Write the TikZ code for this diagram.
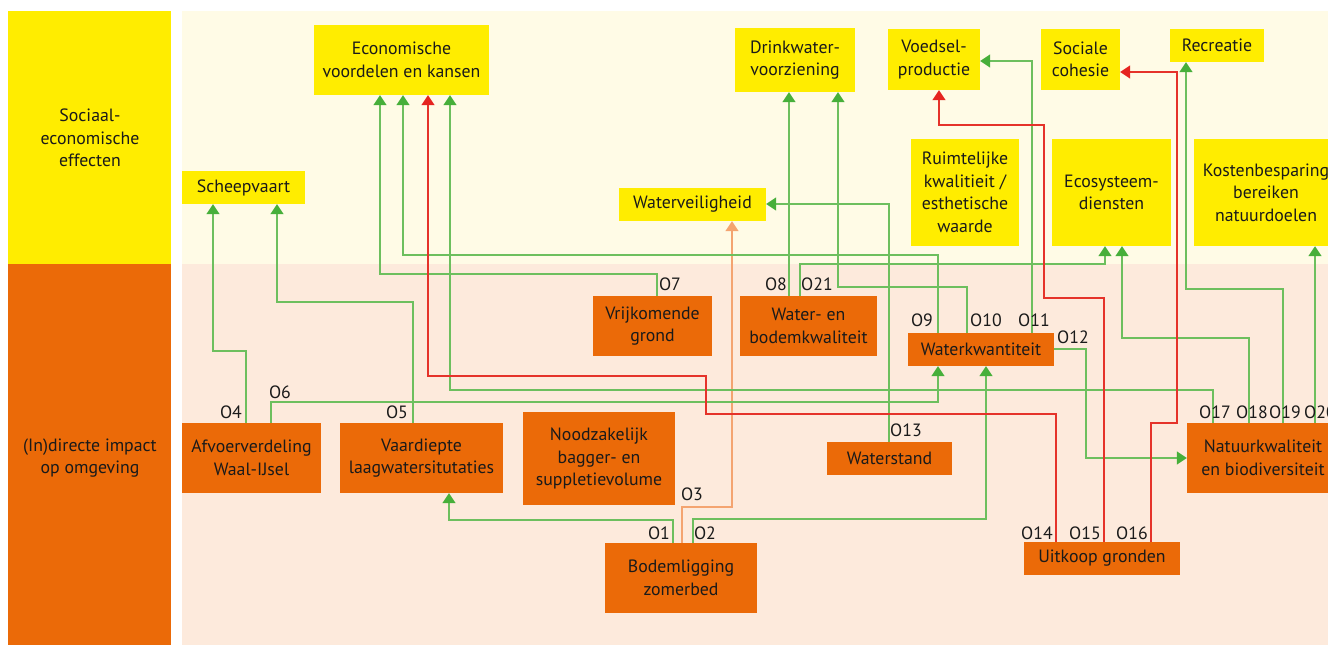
\documentclass[tikz,border=0pt]{standalone}
\usepackage{fontspec}
\setmainfont{PT Sans}
\usetikzlibrary{arrows.meta}

\definecolor{ybright}{HTML}{FFED00}
\definecolor{ypale}{HTML}{FFFBE6}
\definecolor{obright}{HTML}{EB6A08}
\definecolor{opale}{HTML}{FDEADC}
\definecolor{lgreen}{HTML}{6DBF5E}
\definecolor{agreen}{HTML}{47AF3A}
\definecolor{lred}{HTML}{E5332A}
\definecolor{ared}{HTML}{E52420}
\definecolor{lorange}{HTML}{F4A470}
\definecolor{ink}{HTML}{1A1A1A}

% box from its corners: style, name, x1, y1, x2, y2, text
\newcommand\mkbox[7]{%
  \node[#1, minimum width={(#5-#3)*1pt}, minimum height={(#6-#4)*1pt}]
    (#2) at ({(#3+#5)/2},{(#4+#6)/2}) {#7};}

\begin{document}
\begin{tikzpicture}[x=1pt,y=-1pt,
  every node/.style={font=\fontsize{17.8}{22.5}\selectfont, text=ink},
  ybox/.style={fill=ybright, align=center, inner sep=0pt},
  obox/.style={fill=obright, align=center, inner sep=0pt},
  lab/.style={inner sep=0pt},
  link/.style={line width=1.3pt},
  gl/.style={link, draw=lgreen, -{Triangle[width=13pt,length=10pt,color=agreen]}},
  rl/.style={link, draw=lred, -{Triangle[width=13pt,length=10pt,color=ared]}},
  ol/.style={link, draw=lorange, -{Triangle[width=13pt,length=10pt,color=lorange]}},
]
\useasboundingbox (0,0) rectangle (1328,646);
\clip (0,0) rectangle (1328,646);

% background bands
\fill[white] (0,0) rectangle (1328,646);
\fill[ybright] (8,11) rectangle (171,264);
\fill[obright] (8,264) rectangle (171,645);
\fill[ypale] (182,11) rectangle (1340,264);
\fill[opale] (182,264) rectangle (1340,645);

\node[align=center] (lefttop) at (90,138) {Sociaal-\\economische\\effecten};
\node[align=center] (leftbot) at (90,458) {(In)directe impact\\op omgeving};

% socio-economic effects
\mkbox{ybox}{econ}{314}{25}{489}{95}{Economische\\voordelen en kansen}
\mkbox{ybox}{scheep}{182}{171}{305}{204}{Scheepvaart}
\mkbox{ybox}{drink}{735}{28}{855}{92}{Drinkwater-\\voorziening}
\mkbox{ybox}{veil}{619}{188}{766}{221}{Waterveiligheid}
\mkbox{ybox}{voedsel}{888}{29}{980}{90}{Voedsel-\\productie}
\mkbox{ybox}{sociale}{1041}{29}{1120}{90}{Sociale\\cohesie}
\mkbox{ybox}{recr}{1170}{29}{1264}{62}{Recreatie}
\mkbox{ybox}{ruimte}{911}{139}{1019}{246}{Ruimtelijke\\kwalitieit /\\esthetische\\waarde}
\mkbox{ybox}{eco}{1052}{139}{1171}{246}{Ecosysteem-\\diensten}
\mkbox{ybox}{kosten}{1194}{139}{1338}{246}{Kostenbesparing\\bereiken\\natuurdoelen}

% (in)direct impacts
\mkbox{obox}{afvoer}{182}{423}{321}{493}{Afvoerverdeling\\Waal-IJsel}
\mkbox{obox}{vaar}{340}{423}{503}{493}{Vaardiepte\\laagwatersitutaties}
\mkbox{obox}{nood}{523}{412}{675}{505}{Noodzakelijk\\bagger- en\\suppletievolume}
\mkbox{obox}{vrij}{593}{296}{712}{356}{Vrijkomende\\grond}
\mkbox{obox}{wbk}{740}{296}{877}{356}{Water- en\\bodemkwaliteit}
\mkbox{obox}{wkw}{908}{333}{1054}{366}{Waterkwantiteit}
\mkbox{obox}{wstand}{827}{442}{952}{475}{Waterstand}
\mkbox{obox}{natuur}{1187}{423}{1339}{493}{Natuurkwaliteit\\en biodiversiteit}
\mkbox{obox}{bodem}{605}{543}{757}{613}{Bodemligging\\zomerbed}
\mkbox{obox}{uit}{1024}{542}{1180}{575}{Uitkoop gronden}

% connectors
\draw[gl] (673,0 |- bodem.north) -- (673,520) -- (449,520) -- (449,0 |- vaar.south);
\draw[gl] (693,0 |- bodem.north) -- (693,519) -- (986,519) -- (986,0 |- wkw.south);
\draw[ol] (682,0 |- bodem.north) -- (682,507) -- (732,507) -- (732,0 |- veil.south);
\draw[gl] (246,0 |- afvoer.north) -- (246,351) -- (213,351) -- (213,0 |- scheep.south);
\draw[gl] (413,0 |- vaar.north) -- (413,302) -- (277,302) -- (277,0 |- scheep.south);
\draw[gl] (271,0 |- afvoer.north) -- (271,402) -- (938,402) -- (938,0 |- wkw.south);
\draw[gl] (657,0 |- vrij.north) -- (657,274) -- (380,274) -- (380,0 |- econ.south);
\draw[gl] (789,0 |- wbk.north) -- (789,0 |- drink.south);
\draw[gl] (800,0 |- wbk.north) -- (800,264) -- (1105,264) -- (1105,0 |- eco.south);
\draw[gl] (938,0 |- wkw.north) -- (938,255) -- (403,255) -- (403,0 |- econ.south);
\draw[gl] (967,0 |- wkw.north) -- (967,287) -- (838,287) -- (838,0 |- drink.south);
\draw[gl] (1032,0 |- wkw.north) -- (1032,61) -- (voedsel.east |- 0,61);
\draw[gl] (wkw.east |- 0,349) -- (1086,349) -- (1086,458) -- (natuur.west |- 0,458);
\draw[gl] (889,0 |- wstand.north) -- (889,204) -- (veil.east |- 0,204);
\draw[gl] (1213,0 |- natuur.north) -- (1213,390) -- (450,390) -- (450,0 |- econ.south);
\draw[gl] (1249,0 |- natuur.north) -- (1249,338) -- (1122,338) -- (1122,0 |- eco.south);
\draw[gl] (1283,0 |- natuur.north) -- (1283,289) -- (1186,289) -- (1186,0 |- recr.south);
\draw[gl] (1315,0 |- natuur.north) -- (1315,0 |- kosten.south);
\draw[rl] (1056,0 |- uit.north) -- (1056,414) -- (706,414) -- (706,376) -- (428,376) -- (428,0 |- econ.south);
\draw[rl] (1104,0 |- uit.north) -- (1104,298) -- (1044,298) -- (1044,125) -- (939,125) -- (939,0 |- voedsel.south);
\draw[rl] (1151,0 |- uit.north) -- (1151,423) -- (1177,423) -- (1177,72) -- (sociale.east |- 0,72);

% connector labels
\node[lab] (l1) at (659,533) {O1};
\node[lab] (l2) at (705,533) {O2};
\node[lab] (l3) at (692,494) {O3};
\node[lab] (l4) at (231,412) {O4};
\node[lab] (l5) at (397,412) {O5};
\node[lab] (l6) at (280,392) {O6};
\node[lab] (l7) at (670,284) {O7};
\node[lab] (l8) at (776,284) {O8};
\node[lab] (l21) at (817,284) {O21};
\node[lab] (l9) at (922,320) {O9};
\node[lab] (l10) at (986,320) {O10};
\node[lab] (l11) at (1034,320) {O11};
\node[lab] (l12) at (1073,337) {O12};
\node[lab] (l13) at (906,430) {O13};
\node[lab] (l14) at (1037,533) {O14};
\node[lab] (l15) at (1085,533) {O15};
\node[lab] (l16) at (1132,533) {O16};
\node[lab] (l17) at (1215,412) {O17};
\node[lab] (l18) at (1252,412) {O18};
\node[lab] (l19) at (1285,412) {O19};
\node[lab] (l20) at (1320,412) {O20};
\end{tikzpicture}
\end{document}
